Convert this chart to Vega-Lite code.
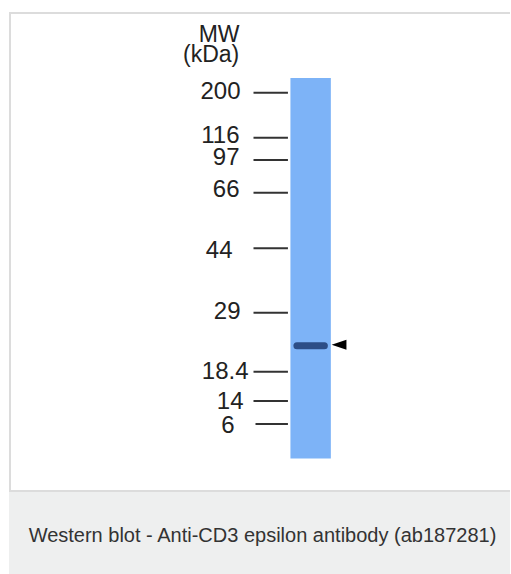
{
  "$schema": "https://vega.github.io/schema/vega-lite/v6.json",
  "width": 511,
  "height": 574,
  "autosize": {"type": "fit", "contains": "padding"},
  "padding": 0,
  "background": "white",
  "config": {"view": {"stroke": null}, "font": "Liberation Sans"},
  "datasets": {
    "caption_bg": [{"x1": 9, "x2": 511, "y1": 491, "y2": 574}],
    "borders": [
      {"x1": 9, "x2": 511, "y1": 13, "y2": 13},
      {"x1": 10, "x2": 10, "y1": 12, "y2": 491},
      {"x1": 9, "x2": 511, "y1": 491, "y2": 491}
    ],
    "lane": [{"x1": 291, "x2": 331.5, "y1": 78, "y2": 458.5}],
    "band": [{"x1": 297.5, "x2": 325, "y": 345.7}],
    "arrow": [{"x": 339.7, "y": 344.8}],
    "ladder": [
      {"label": "200", "y": 92.7, "ly": 91.7, "lx": 241, "t1": 254, "t2": 288.5},
      {"label": "116", "y": 137.7, "ly": 135.5, "lx": 240, "t1": 254, "t2": 288.5},
      {"label": "97", "y": 160, "ly": 158, "lx": 240, "t1": 254, "t2": 288.5},
      {"label": "66", "y": 192.7, "ly": 189.5, "lx": 240, "t1": 254, "t2": 288.5},
      {"label": "44", "y": 248.3, "ly": 250.5, "lx": 233, "t1": 254, "t2": 288.5},
      {"label": "29", "y": 312.7, "ly": 311.5, "lx": 241, "t1": 254, "t2": 288.5},
      {"label": "18.4", "y": 371.7, "ly": 372, "lx": 249, "t1": 254, "t2": 288.5},
      {"label": "14", "y": 401, "ly": 401.5, "lx": 244, "t1": 254, "t2": 288.5},
      {"label": "6", "y": 424, "ly": 426, "lx": 235, "t1": 256, "t2": 288.5}
    ],
    "header": [
      {"text": "MW", "x": 219.5, "y": 41.7},
      {"text": "(kDa)", "x": 211.5, "y": 62}
    ],
    "caption": [{"text": "Western blot - Anti-CD3 epsilon antibody (ab187281)", "x": 263, "y": 541.7}]
  },
  "layer": [
    {
      "data": {"name": "caption_bg"},
      "mark": {"type": "rect", "fill": "#eeefef"},
      "encoding": {
        "x": {"field": "x1", "type": "quantitative", "scale": {"domain": [0, 511], "nice": false, "zero": false}, "axis": null},
        "x2": {"field": "x2"},
        "y": {"field": "y1", "type": "quantitative", "scale": {"domain": [0, 574], "nice": false, "zero": false, "reverse": true}, "axis": null},
        "y2": {"field": "y2"}
      }
    },
    {
      "data": {"name": "borders"},
      "mark": {"type": "rule", "stroke": "#dcdcdc", "strokeWidth": 2},
      "encoding": {
        "x": {"field": "x1", "type": "quantitative"},
        "x2": {"field": "x2"},
        "y": {"field": "y1", "type": "quantitative"},
        "y2": {"field": "y2"}
      }
    },
    {
      "data": {"name": "lane"},
      "mark": {"type": "rect", "fill": "#7db3f7"},
      "encoding": {
        "x": {"field": "x1", "type": "quantitative"},
        "x2": {"field": "x2"},
        "y": {"field": "y1", "type": "quantitative"},
        "y2": {"field": "y2"}
      }
    },
    {
      "data": {"name": "band"},
      "mark": {"type": "rule", "stroke": "#2c4d86", "strokeWidth": 7, "strokeCap": "round"},
      "encoding": {
        "x": {"field": "x1", "type": "quantitative"},
        "x2": {"field": "x2"},
        "y": {"field": "y", "type": "quantitative"}
      }
    },
    {
      "data": {"name": "arrow"},
      "mark": {"type": "point", "shape": "M1,-0.68L-1,0L1,0.68Z", "filled": true, "fill": "black", "strokeWidth": 0, "opacity": 1, "size": 220},
      "encoding": {
        "x": {"field": "x", "type": "quantitative"},
        "y": {"field": "y", "type": "quantitative"}
      }
    },
    {
      "data": {"name": "ladder"},
      "mark": {"type": "rule", "stroke": "#333333", "strokeWidth": 2},
      "encoding": {
        "x": {"field": "t1", "type": "quantitative"},
        "x2": {"field": "t2"},
        "y": {"field": "y", "type": "quantitative"}
      }
    },
    {
      "data": {"name": "ladder"},
      "mark": {"type": "text", "align": "right", "baseline": "middle", "fontSize": 24, "fill": "#222222"},
      "encoding": {
        "x": {"field": "lx", "type": "quantitative"},
        "y": {"field": "ly", "type": "quantitative"},
        "text": {"field": "label"}
      }
    },
    {
      "data": {"name": "header"},
      "mark": {"type": "text", "align": "center", "baseline": "alphabetic", "fontSize": 23, "fill": "#222222"},
      "encoding": {
        "x": {"field": "x", "type": "quantitative"},
        "y": {"field": "y", "type": "quantitative"},
        "text": {"field": "text"}
      }
    },
    {
      "data": {"name": "caption"},
      "mark": {"type": "text", "align": "center", "baseline": "alphabetic", "fontSize": 20, "fill": "#333333"},
      "encoding": {
        "x": {"field": "x", "type": "quantitative"},
        "y": {"field": "y", "type": "quantitative"},
        "text": {"field": "text"}
      }
    }
  ]
}
